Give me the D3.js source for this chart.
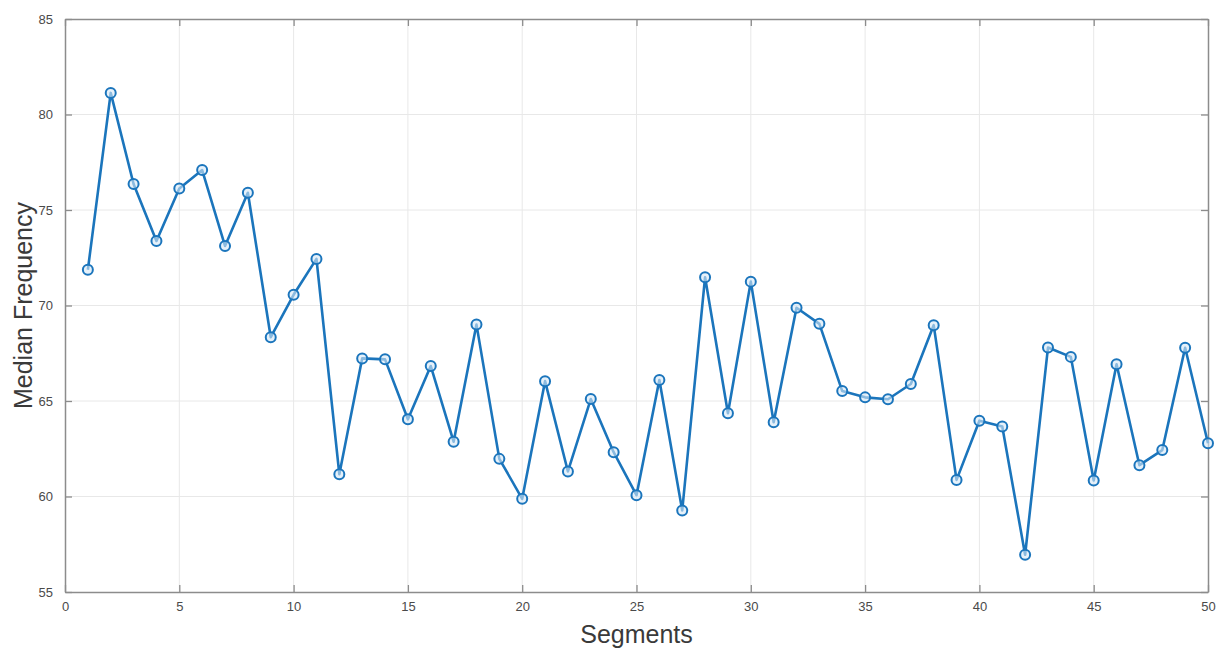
<!DOCTYPE html>
<html>
<head>
<meta charset="utf-8">
<script src="https://cdn.jsdelivr.net/npm/d3@7"></script>
<style>
  html, body { margin: 0; padding: 0; background: #fff; }
  svg { display: block; font-family: "Liberation Sans", Arial, Helvetica, sans-serif; }
</style>
</head>
<body>
<svg id="chart" width="1228" height="658"></svg>
<script>
// Median frequency per segment
const segments = d3.range(1, 51);
const medianFrequency = [
  71.87, 81.13, 76.36, 73.38, 76.13, 77.09, 73.12, 75.90, 68.34, 70.56,
  72.44, 61.17, 67.23, 67.18, 64.04, 66.83, 62.87, 69.00, 61.97, 59.88,
  66.04, 61.31, 65.10, 62.32, 60.07, 66.10, 59.27, 71.48, 64.36, 71.25,
  63.89, 69.88, 69.04, 65.52, 65.19, 65.09, 65.89, 68.97, 60.87, 63.97,
  63.66, 56.95, 67.80, 67.31, 60.84, 66.92, 61.64, 62.43, 67.79, 62.79
];
const xTicks = [0, 5, 10, 15, 20, 25, 30, 35, 40, 45, 50];
const yTicks = [55, 60, 65, 70, 75, 80, 85];

const margin = { left: 65, right: 20, top: 19, bottom: 66 };
const W = 1228, H = 658;
const svg = d3.select("#chart");

const x = d3.scaleLinear().domain([0, 50]).range([margin.left, W - margin.right]);
const y = d3.scaleLinear().domain([55, 85]).range([H - margin.bottom, margin.top]);

const axisColor = "#8c8c8c";
const gridColor = "#e8e8e8";
const textColor = "#4a4a4a";
const lineColor = "#1b75bc";

// grid
const grid = svg.append("g");
grid.selectAll(".gx").data(xTicks.slice(1, -1)).join("line")
  .attr("x1", d => x(d)).attr("x2", d => x(d))
  .attr("y1", y(55)).attr("y2", y(85))
  .attr("stroke", gridColor).attr("stroke-width", 1);
grid.selectAll(".gy").data(yTicks.slice(1, -1)).join("line")
  .attr("y1", d => y(d)).attr("y2", d => y(d))
  .attr("x1", x(0)).attr("x2", x(50))
  .attr("stroke", gridColor).attr("stroke-width", 1);

// axes with inward ticks on all four sides
const tickLen = 7;
function styleAxis(g) {
  g.select(".domain").attr("stroke", axisColor).attr("stroke-width", 1.5);
  g.selectAll(".tick line").attr("stroke", axisColor).attr("stroke-width", 1.3);
  g.selectAll(".tick text").attr("fill", textColor).attr("font-size", 13);
}
svg.append("g").attr("transform", `translate(0,${y(55)})`)
  .call(d3.axisBottom(x).tickValues(xTicks).tickSizeInner(-tickLen).tickSizeOuter(0).tickPadding(10))
  .call(styleAxis);
svg.append("g").attr("transform", `translate(0,${y(85)})`)
  .call(d3.axisTop(x).tickValues(xTicks).tickSizeInner(-tickLen).tickSizeOuter(0).tickFormat(""))
  .call(styleAxis);
svg.append("g").attr("transform", `translate(${x(0)},0)`)
  .call(d3.axisLeft(y).tickValues(yTicks).tickSizeInner(-tickLen).tickSizeOuter(0).tickPadding(12))
  .call(styleAxis);
svg.append("g").attr("transform", `translate(${x(50)},0)`)
  .call(d3.axisRight(y).tickValues(yTicks).tickSizeInner(-tickLen).tickSizeOuter(0).tickFormat(""))
  .call(styleAxis);

// series line
const pts = segments.map((s, i) => [s, medianFrequency[i]]);
svg.append("path")
  .datum(pts)
  .attr("fill", "none")
  .attr("stroke", lineColor)
  .attr("stroke-width", 2.6)
  .attr("stroke-linejoin", "round")
  .attr("d", d3.line().x(d => x(d[0])).y(d => y(d[1])));

// circle markers
svg.append("g").selectAll("circle").data(pts).join("circle")
  .attr("cx", d => x(d[0])).attr("cy", d => y(d[1]))
  .attr("r", 5)
  .attr("fill", "#d6e8f6")
  .attr("fill-opacity", 0.6)
  .attr("stroke", lineColor)
  .attr("stroke-width", 2);

// axis titles
svg.append("text")
  .attr("x", (x(0) + x(50)) / 2).attr("y", 643)
  .attr("text-anchor", "middle")
  .attr("font-size", 25)
  .attr("fill", "#3a3a3a")
  .text("Segments");
svg.append("text")
  .attr("transform", `translate(32,${(y(55) + y(85)) / 2}) rotate(-90)`)
  .attr("text-anchor", "middle")
  .attr("font-size", 25)
  .attr("fill", "#3a3a3a")
  .text("Median Frequency");
</script>
</body>
</html>
